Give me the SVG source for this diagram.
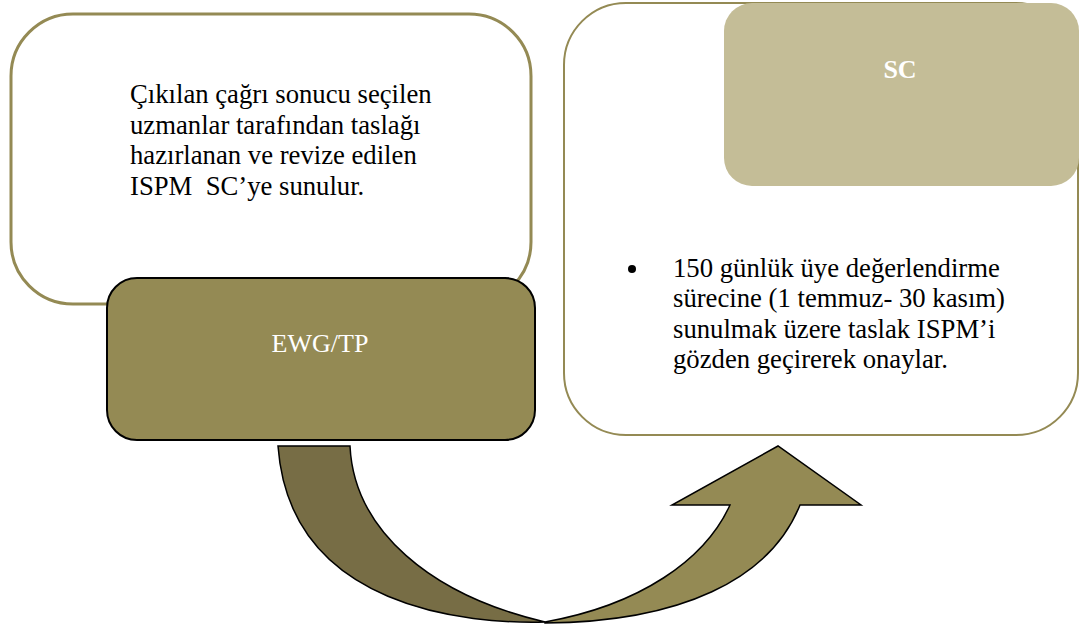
<svg xmlns="http://www.w3.org/2000/svg" width="1081" height="628" viewBox="0 0 1081 628">
<style>
.t{font-family:"Liberation Serif","Times New Roman",serif;font-size:26.7px;fill:#000}
.w{font-family:"Liberation Serif","Times New Roman",serif;font-size:26px;fill:#fff}
.frame{fill:#fff;stroke:#948A54}
.arr{stroke:#000;stroke-width:1.5;stroke-linejoin:miter}
</style>
<rect width="1081" height="628" fill="#fff"/>
<g id="node-left">
<rect class="frame" x="11" y="14" width="520" height="290" rx="62" ry="62" stroke-width="3"/>
<text class="t" x="130" y="103">Çıkılan çağrı sonucu seçilen</text>
<text class="t" x="130" y="134">uzmanlar tarafından taslağı</text>
<text class="t" x="130" y="164">hazırlanan ve revize edilen</text>
<text class="t" x="130" y="195" xml:space="preserve">ISPM  SC’ye sunulur.</text>
</g>
<g id="node-ewg">
<rect x="107" y="278" width="428" height="162" rx="30" ry="30" fill="#948A54" stroke="#000" stroke-width="2"/>
<text class="w" x="320" y="352" text-anchor="middle">EWG/TP</text>
</g>
<g id="node-right">
<rect class="frame" x="564" y="3" width="514" height="432" rx="62" ry="62" stroke-width="2"/>
<circle cx="632" cy="269" r="4" fill="#000"/>
<text class="t" x="673" y="277">150 günlük üye değerlendirme</text>
<text class="t" x="673" y="307">sürecine (1 temmuz- 30 kasım)</text>
<text class="t" x="673" y="338">sunulmak üzere taslak ISPM’i</text>
<text class="t" x="673" y="368">gözden geçirerek onaylar.</text>
</g>
<g id="node-sc">
<rect x="724" y="3" width="355" height="183" rx="28" ry="28" fill="#C4BD97"/>
<text class="w" x="900" y="78" text-anchor="middle" font-weight="bold">SC</text>
</g>
<g id="connectors">
<path class="arr" fill="#776D45" d="M278 446 L350 446 C354 530 430 595 545 622 C470 624 290 610 278 446 Z"/>
<path class="arr" fill="#948A54" d="M545 622 C640 605 705 560 730 505 L672 505 L778 446 L861 505 L800 505 C770 580 680 622 545 623 Z"/>
</g>
</svg>
